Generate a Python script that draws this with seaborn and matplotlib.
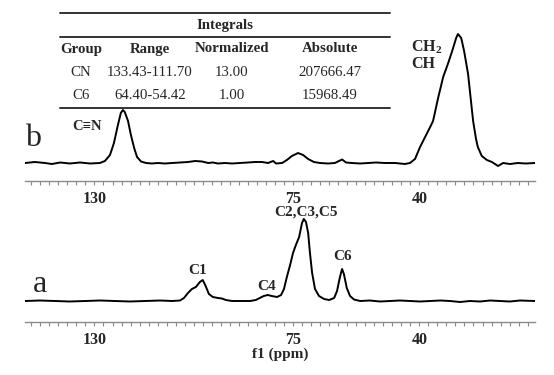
import pandas as pd
import matplotlib.pyplot as plt
import seaborn as sns
from matplotlib.ticker import FixedLocator, MultipleLocator

# --- style ---
sns.set_theme(style="white")
plt.rcParams['font.family'] = ['Liberation Serif', 'DejaVu Serif']
plt.rcParams['mathtext.fontset'] = 'custom'
plt.rcParams['mathtext.rm'] = 'Liberation Serif'
plt.rcParams['mathtext.bf'] = 'Liberation Serif:bold'

# --- spectrum b (arbitrary units) ---
ppm_b = [149.2, 146.5, 143.7, 141.8, 139.5, 136.8, 134.0, 131.2, 128.5, 127.1,
         125.7, 124.6, 123.5, 122.7, 122.1, 121.6, 120.7, 119.9, 119.0, 118.2,
         117.1, 115.7, 114.1, 112.4, 110.5, 108.5, 106.3, 104.1, 102.1, 100.2,
         98.5, 97.2, 95.8, 93.8, 91.9, 89.7, 87.5, 85.5, 83.6, 81.9,
         80.5, 79.7, 78.0, 76.7, 75.3, 73.6, 72.2, 70.8, 69.2, 67.5,
         65.3, 63.4, 61.4, 60.3, 58.7, 56.4, 54.2, 52.0, 49.5, 46.7,
         44.0, 42.6, 41.2, 39.8, 38.4, 37.0, 36.2, 34.8, 33.4, 32.0,
         30.9, 29.8, 29.3, 28.4, 27.6, 26.5, 25.7, 25.1, 24.3, 23.8,
         22.7, 21.3, 19.9, 18.2, 16.8, 14.9, 12.7, 10.5, 8.0]
int_b = [0, 1, 0, -1, 0.5, -0.5, 0.5, -0.5, 0, 2,
         8, 20, 38, 50, 53, 51, 42, 28, 15, 6,
         1.5, 0, -0.5, 0, -0.5, 0, 0.5, 1, 2, 1.5,
         0, 0.5, -0.5, 0, -0.5, 0, 0.5, 1, 1, 0,
         2, -0.5, 0, 3, 7, 10, 8, 4, 1, 0,
         -0.5, 0, 3.5, 0.5, 0, -0.5, 0, 0.5, 0, 0,
         -1, 0, 4, 16, 26, 36, 42, 65, 86, 100,
         112, 125, 129, 125, 112, 89, 62, 42, 24, 16,
         7, 3, 1, -3, 0, -1, 0, -0.5, 0]

# --- spectrum a ---
ppm_a = [149.2, 145.1, 140.9, 136.8, 132.6, 128.5, 124.3, 120.2, 116.0, 111.8,
         108.5, 106.3, 105.2, 104.1, 103.0, 101.9, 100.8, 100.0, 99.2, 98.3,
         97.2, 95.8, 94.7, 93.6, 91.9, 89.7, 86.9, 85.3, 84.2, 83.1,
         82.0, 80.9, 79.4, 78.3, 77.5, 76.7, 75.8, 75.0, 74.2, 73.3,
         72.5, 72.0, 71.4, 70.8, 70.3, 69.7, 68.9, 67.8, 66.4, 65.0,
         63.6, 62.8, 62.0, 61.4, 60.9, 60.1, 59.2, 58.1, 56.4, 53.7,
         50.9, 48.1, 45.4, 42.6, 39.8, 37.0, 34.2, 31.5, 28.7, 26.0,
         23.2, 20.4, 17.7, 14.9, 12.1, 8.0]
int_a = [0, 0.5, 0, -0.5, 0, 0.5, 0, -0.5, 0, 0.5,
         0, 0.5, 3, 8, 12, 14, 19, 21, 15, 7,
         4, 3, 2.5, 1, 0, 0, 0, 1, 3, 5,
         6, 5, 4, 6, 12, 24, 36, 48, 56, 64,
         78, 82, 79, 68, 48, 28, 12, 5, 2, 1,
         3, 10, 24, 32, 27, 13, 5, 1.5, 0, 0.5,
         -0.5, 0, 0.5, 0, -0.5, 0, 0.5, 0, -1, 0,
         -0.5, 0.5, 0, -0.5, 0.5, 0]

tick_ppm = [130, 75, 40]
tick_text = ['130', '75', '40']

# --- integrals table ---
tab_header = ['Group', 'Range', 'Normalized', 'Absolute']
tab_group = ['CN', 'C6']
tab_range = ['133.43-111.70', '64.40-54.42']
tab_norm = ['13.00', '1.00']
tab_abs = ['207666.47', '15968.49']

df_b = pd.DataFrame({'ppm': ppm_b, 'intensity': int_b})
df_a = pd.DataFrame({'ppm': ppm_a, 'intensity': int_a})

W, H = 554, 375
fig = plt.figure(figsize=(W / 100, H / 100), dpi=100)
ax_b = fig.add_axes([25 / W, 1 - 181 / H, 510 / W, 161 / H])
ax_a = fig.add_axes([25 / W, 1 - 322 / H, 510 / W, 117 / H])


def style_axis(ax, ylim):
    ax.set_xlim(149.24, 7.96)
    ax.set_ylim(*ylim)
    for s in ['top', 'left', 'right']:
        ax.spines[s].set_visible(False)
    ax.spines['bottom'].set_color('#8a8a8a')
    ax.spines['bottom'].set_linewidth(1.0)
    ax.set_yticks([])
    ax.set_ylabel('')
    ax.xaxis.set_major_locator(FixedLocator(tick_ppm))
    ax.xaxis.set_minor_locator(MultipleLocator(2.5))
    ax.set_xticklabels(tick_text, fontsize=11.5, fontweight='bold')
    ax.tick_params(axis='x', which='both', bottom=True, direction='out',
                   length=3, width=0.8, color='#8a8a8a', pad=4)
    ax.patch.set_alpha(0)


sns.lineplot(data=df_b, x='ppm', y='intensity', ax=ax_b, color='black',
             linewidth=1.4, legend=False)
sns.lineplot(data=df_a, x='ppm', y='intensity', ax=ax_a, color='black',
             linewidth=1.4, legend=False)
style_axis(ax_b, (-18, 143))
style_axis(ax_a, (-21, 96))
ax_b.set_xlabel('')
ax_a.set_xlabel('f1 (ppm)', fontsize=11, fontweight='bold', labelpad=0)

# panel letters and peak labels
ax_b.text(147.0, 25, 'b', fontsize=23, ha='center', va='center')
ax_a.text(145.1, 17, 'a', fontsize=23, ha='center', va='center')
ax_b.text(132.1, 36, 'C≡N', fontsize=10.5, fontweight='bold', ha='center', va='center')
ax_b.text(42.3, 116, r'$\mathbf{CH_2}$', fontsize=11.5, ha='left', va='center')
ax_b.text(42.3, 99, 'CH', fontsize=11.5, fontweight='bold', ha='left', va='center')
ax_a.text(101.3, 31, 'C1', fontsize=11, fontweight='bold', ha='center', va='center')
ax_a.text(82.2, 14, 'C4', fontsize=11, fontweight='bold', ha='center', va='center')
ax_a.text(71.4, 89, 'C2,C3,C5', fontsize=11, fontweight='bold', ha='center', va='center')
ax_a.text(61.4, 45, 'C6', fontsize=11, fontweight='bold', ha='center', va='center')

# table rules
for yy in [13, 37, 108]:
    fig.add_artist(plt.Line2D([60 / W, 390 / W], [1 - yy / H] * 2,
                              color='#333333', linewidth=1.4))
fig.text(225 / W, 1 - 25 / H, 'Integrals', fontsize=10.7, fontweight='bold',
         ha='center', va='center')
col_x = [81, 150, 232, 330]
for cx, h in zip(col_x, tab_header):
    fig.text(cx / W, 1 - 49 / H, h, fontsize=10.7, fontweight='bold',
             ha='center', va='center')
for row_y, g, r, n, a in zip([72, 95], tab_group, tab_range, tab_norm, tab_abs):
    for cx, t in zip(col_x, [g, r, n, a]):
        fig.text(cx / W, 1 - row_y / H, t, fontsize=10.7, ha='center', va='center')

fig.savefig('out.png', dpi=100)
